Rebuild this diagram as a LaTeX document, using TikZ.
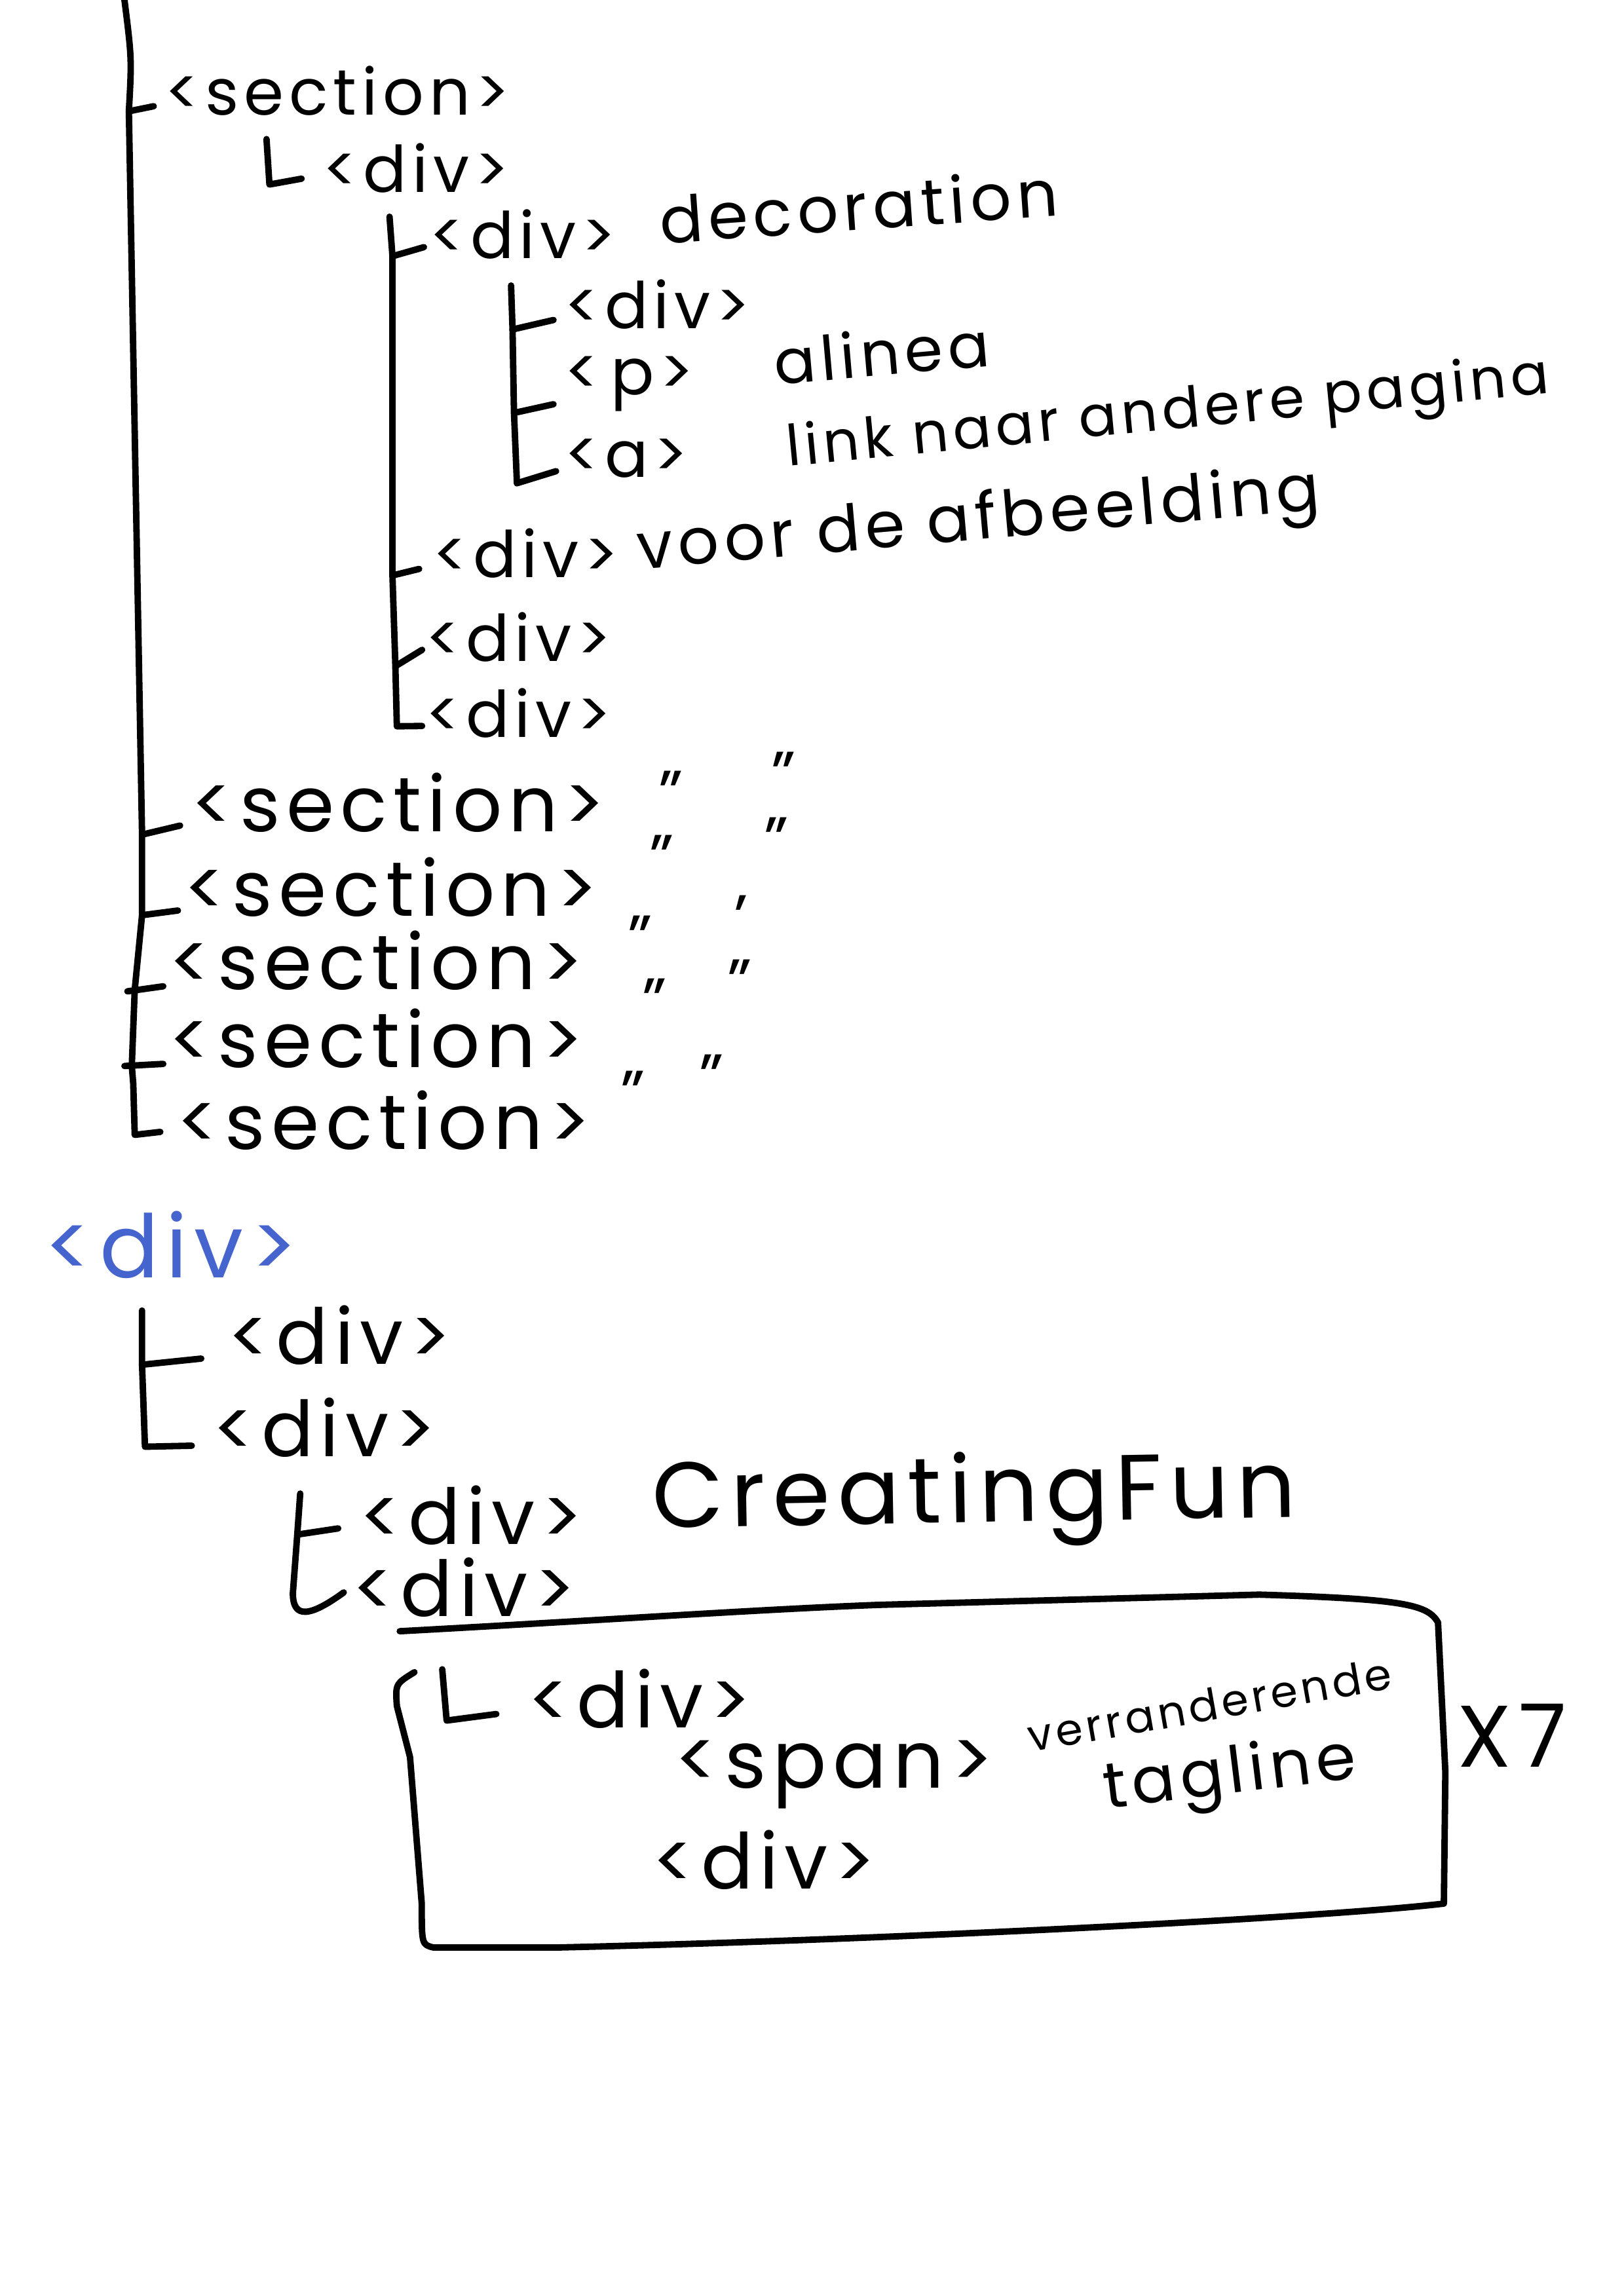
\documentclass[tikz,border=0pt]{standalone}
\usepackage{fontspec}
\setmainfont{Poppins}[LetterSpace=8]
\usetikzlibrary{calc}
\definecolor{inkblue}{RGB}{70,100,205}
\begin{document}
\begin{tikzpicture}[x=0.02cm,y=-0.02cm,
  ink/.style={line width=2.5pt, line cap=round, line join=round},
  lbl/.style={anchor=west, inner sep=0pt, font=\fontsize{#1}{#1}\selectfont},
  clbl/.style={anchor=center, inner sep=0pt, font=\fontsize{#1}{#1}\selectfont},
  qmark/.style={anchor=center, inner sep=0pt, font=\fontsize{25}{25}\selectfont, text height=8pt, text depth=0pt}]
\fill[white] (0,0) rectangle (1109,1568);
\useasboundingbox (0,0) rectangle (1109,1568);

% ---------- upper tree ----------
\node[lbl=25] (s1) at (112,62) {<section>};
\node[lbl=25] (d1) at (220,115) {<div>};
\node[lbl=25] (d2) at (293,160) {<div>};
\node[lbl=25, rotate=4] (dec) at (450,150) {decoration};
\node[lbl=25] (d3) at (385,208) {<div>};
\node[lbl=25] (p1) at (385,262) {<\,p>};
\node[lbl=24, rotate=5] (ali) at (528,247) {alinea};
\node[lbl=25] (a1) at (385,313) {<a>};
\node[lbl=22, rotate=5.5] (link) at (537,309) {link naar andere pagina};
\node[lbl=25] (d4) at (295,378) {<div>};
\node[lbl=25, rotate=5] (voor) at (435,378) {voor de afbeelding};
\node[lbl=25] (d5) at (290,435) {<div>};
\node[lbl=25] (d6) at (290,487) {<div>};

\node[lbl=30] (s2) at (130,548) {<section>};
\node[lbl=30] (s3) at (125,606) {<section>};
\node[lbl=30] (s4) at (115,656) {<section>};
\node[lbl=30] (s5) at (115,709) {<section>};
\node[lbl=30] (s6) at (120,765) {<section>};
\node[qmark] (q2a) at (458,550) {"};
\node[qmark] (q2b) at (535,537) {"};
\node[qmark] (q3a) at (452,594) {"};
\node[qmark] (q3b) at (530,582) {"};
\node[qmark] (q4a) at (437,649) {"};
\node[qmark] (q4b) at (506,635) {'};
\node[qmark] (q5a) at (447,692) {"};
\node[qmark] (q5b) at (505,679) {"};
\node[qmark] (q6a) at (432,755) {"};
\node[qmark] (q6b) at (486,744) {"};

% trunk
\coordinate (t0) at (85,0);
\coordinate (t1) at (88,76);
\coordinate (t2) at (97,570);
\coordinate (t3) at (97,625);
\coordinate (t4) at (92,676);
\coordinate (t5) at (90,728);
\coordinate (t6) at (91,740);
\draw[ink] (t0) .. controls (90,40) .. (t1) -- (t2) -- (t3) -- (t4) -- (t5) -- (t6) -- (92,775) -- ([xshift=-6pt]s6.west |- 0,773);
\draw[ink] (t1) -- ([xshift=-4pt,yshift=-6pt]s1.west);
\draw[ink] (t2) -- ([xshift=-4pt,yshift=-9pt]s2.west);
\draw[ink] (t3) -- ([xshift=-2pt,yshift=-9pt]s3.west);
\draw[ink] (87,677) -- ([xshift=-2pt,yshift=-10pt]s4.west);
\draw[ink] (85,728) -- ([xshift=-2pt,yshift=-10pt]s5.west);

% L to first div
\draw[ink] (182,95) -- (184,126) -- ([xshift=-8pt,yshift=-4pt]d1.west);

% second level
\coordinate (u0) at (266,148);
\coordinate (u1) at (268,175);
\coordinate (u2) at (268,393);
\coordinate (u3) at (270,455);
\draw[ink] (u0) -- (u1) -- (u2) -- (u3) -- (271,496) -- ([xshift=-1pt,yshift=-5pt]d6.west);
\draw[ink] (u1) -- ([xshift=-2pt,yshift=-5pt]d2.west);
\draw[ink] (u2) -- ([xshift=-5pt,yshift=-6pt]d4.west);
\draw[ink] (u3) -- ([xshift=-1pt,yshift=-5pt]d5.west);

% third level
\coordinate (v0) at (349,195);
\coordinate (v1) at (350,225);
\coordinate (v2) at (351,282);
\draw[ink] (v0) -- (v1) -- (v2) -- (353,330) -- ([xshift=-3pt,yshift=-5pt]a1.west);
\draw[ink] (v1) -- ([xshift=-4pt,yshift=-6pt]d3.west);
\draw[ink] (v2) -- ([xshift=-4pt,yshift=-8pt]p1.west);

% ---------- lower tree ----------
\node[lbl=34, text=inkblue] (root) at (30,850) {<div>};
\node[lbl=30] (b1) at (155,912) {<div>};
\node[lbl=30] (b2) at (145,975) {<div>};
\node[lbl=30] (c1) at (245,1035) {<div>};
\node[lbl=36, rotate=1] (fun) at (445,1028) {CreatingFun};
\node[lbl=30] (c2) at (240,1084) {<div>};

\coordinate (w0) at (97,895);
\coordinate (w1) at (97,932);
\draw[ink] (w0) -- (w1) -- (99,988) -- ([xshift=-8pt,yshift=-7pt]b2.west);
\draw[ink] (w1) -- ([xshift=-10pt,yshift=-9pt]b1.west);

\coordinate (x0) at (205,1020);
\coordinate (x1) at (203,1048);
\draw[ink] (x0) -- (x1) -- (200,1088) .. controls (200,1106) and (212,1104) .. ([xshift=-3pt,yshift=-2pt]c2.west);
\draw[ink] (x1) -- ([xshift=-8pt,yshift=-5pt]c1.west);

% box
\draw[ink] (273,1114) .. controls (420,1106) and (520,1099) .. (600,1096)
  -- (860,1089) .. controls (960,1092) and (975,1096) .. (982,1108)
  -- (987,1210) -- (986,1300) .. controls (900,1310) and (600,1325) .. (380,1330)
  -- (296,1330) .. controls (288,1328) .. (288,1300)
  -- (280,1200) -- (271,1165) .. controls (270,1150) .. (283,1142);

\node[lbl=30] (e1) at (360,1160) {<div>};
\node[lbl=31] (sp) at (460,1212) {<span>};
\node[clbl=17, rotate=10] (ver) at (826,1164) {verranderende};
\node[clbl=25, rotate=7] (tag) at (840,1214) {tagline};
\node[lbl=30] (e3) at (445,1270) {<div>};
\node[lbl=34] (x7) at (995,1185) {X7};

\draw[ink] (302,1140) -- (305,1175) -- ([xshift=-12pt,yshift=-6pt]e1.west);
\end{tikzpicture}
\end{document}
